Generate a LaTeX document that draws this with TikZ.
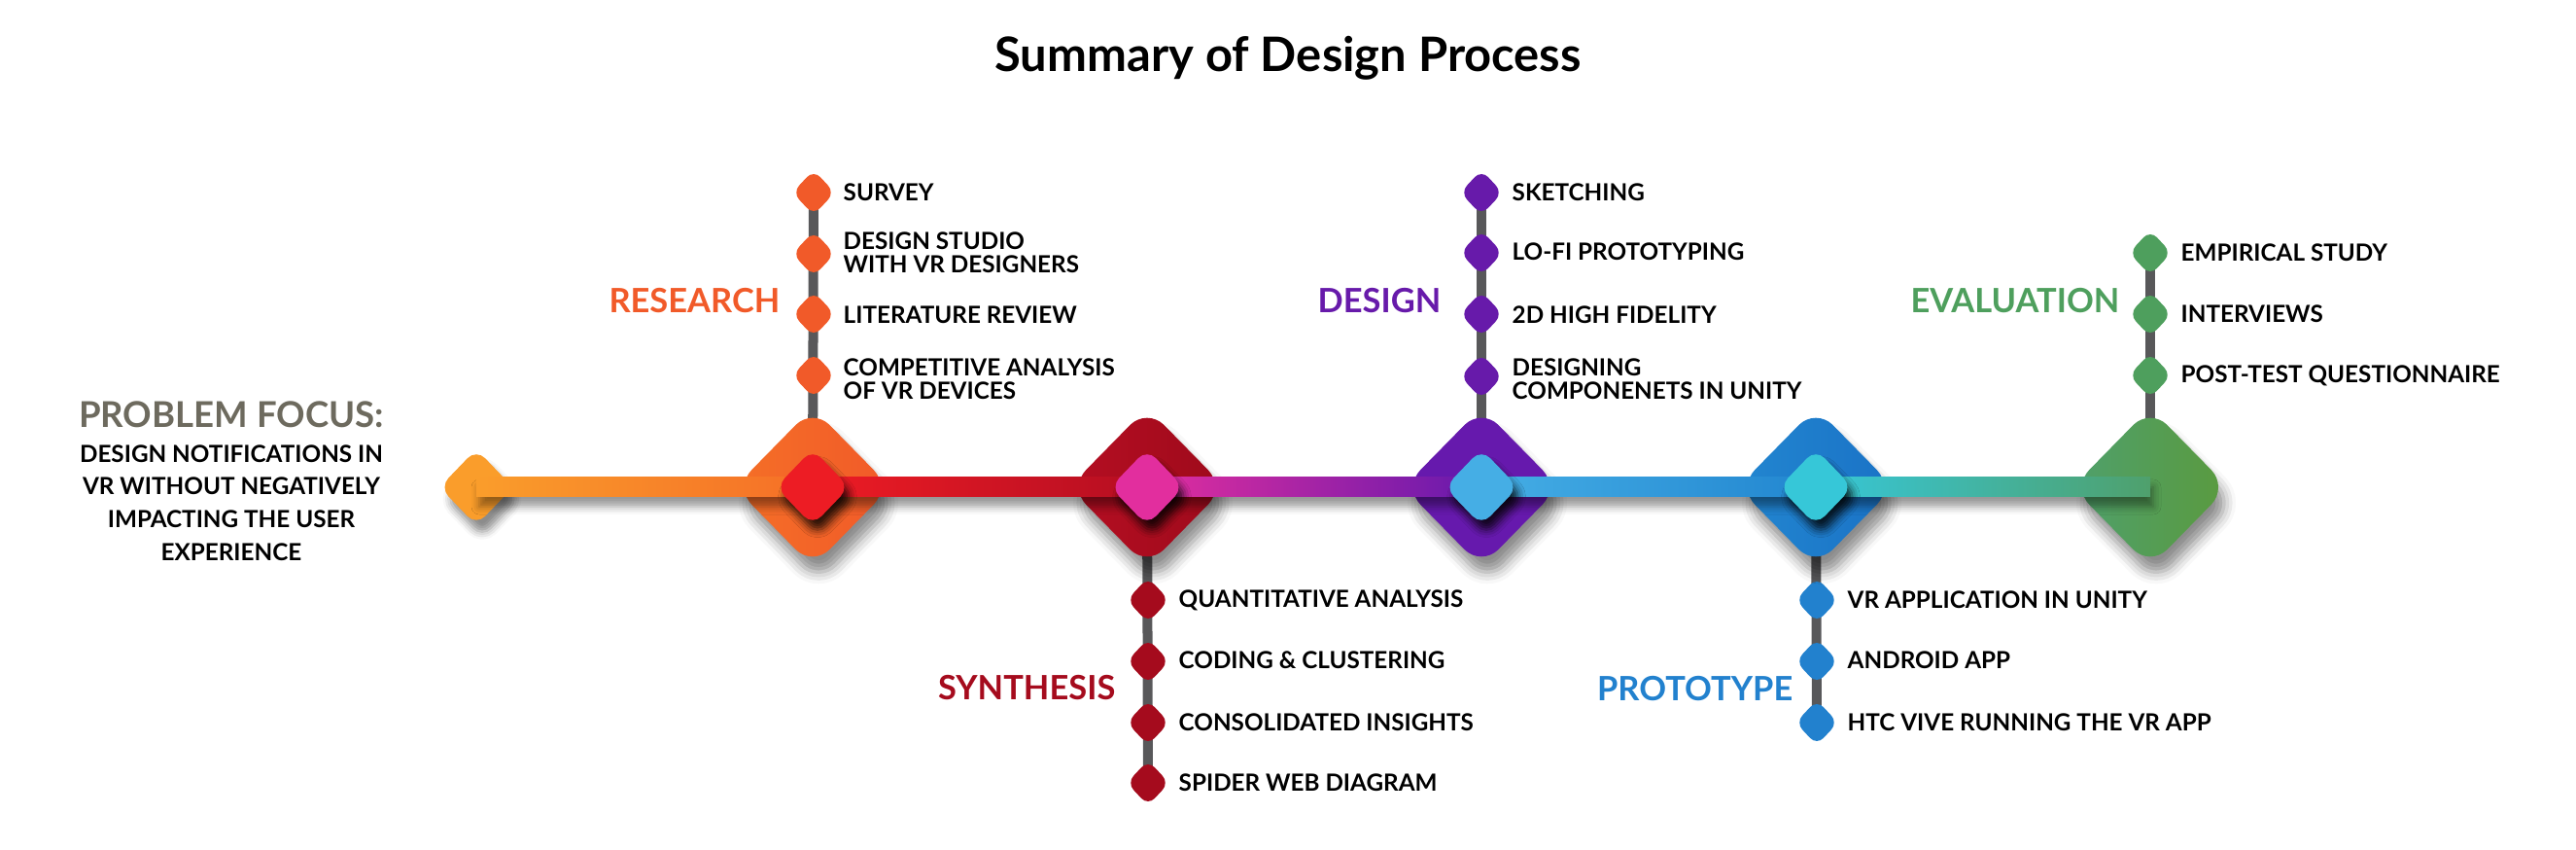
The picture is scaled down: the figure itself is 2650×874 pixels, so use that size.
\documentclass[tikz,border=0pt]{standalone}
\usepackage{fontspec}
\setmainfont{Lato}
\usetikzlibrary{shapes.geometric,shadows.blur,calc}
\definecolor{cStart}{HTML}{FA9D2B}
\definecolor{cResBigL}{HTML}{F56F27}
\definecolor{cResBigR}{HTML}{F15A29}
\definecolor{cResIn}{HTML}{ED1C24}
\definecolor{cSynBigL}{HTML}{B50E22}
\definecolor{cSynBigR}{HTML}{9E0A1B}
\definecolor{cSynIn}{HTML}{E22E9E}
\definecolor{cDesBig}{HTML}{6619AD}
\definecolor{cDesIn}{HTML}{45AEE5}
\definecolor{cProBigL}{HTML}{2286D0}
\definecolor{cProBigR}{HTML}{1A72C6}
\definecolor{cProIn}{HTML}{36C7D8}
\definecolor{cEvaL}{HTML}{4FA06C}
\definecolor{cEvaR}{HTML}{5A9A3E}
\definecolor{cResItem}{HTML}{F15A29}
\definecolor{cSynItem}{HTML}{A50B1D}
\definecolor{cDesItem}{HTML}{671AAA}
\definecolor{cProItem}{HTML}{2281CE}
\definecolor{cEvaItem}{HTML}{4E9F5D}
\definecolor{cStem}{HTML}{58585A}
\definecolor{cProblem}{HTML}{6D6A5E}
\tikzset{
  bigdia/.style={diamond, minimum width=1.61cm, minimum height=1.64cm, inner sep=0pt, rounded corners=0.25cm,
    blur shadow={shadow xshift=0.06cm, shadow yshift=-0.16cm, shadow blur radius=0.12cm, shadow opacity=45}},
  india/.style={diamond, minimum width=0.76cm, minimum height=0.79cm, inner sep=0pt, rounded corners=0.13cm,
    blur shadow={shadow xshift=0.05cm, shadow yshift=-0.1cm, shadow blur radius=0.08cm, shadow opacity=80}},
  startdia/.style={diamond, minimum width=0.76cm, minimum height=0.79cm, inner sep=0pt, rounded corners=0.13cm,
    blur shadow={shadow xshift=0.06cm, shadow yshift=-0.12cm, shadow blur radius=0.08cm, shadow opacity=45}},
  itemdia/.style={diamond, minimum width=0.44cm, minimum height=0.47cm, inner sep=0pt, rounded corners=0.1cm},
  stemline/.style={draw=cStem, line width=0.1cm},
  barseg/.style={blur shadow={shadow xshift=0.03cm, shadow yshift=-0.1cm, shadow blur radius=0.08cm, shadow opacity=40}},
  itemtext/.style={font=\bfseries\fontsize{6.9}{6.9}\selectfont, anchor=west, align=left, inner sep=0pt},
  phaselabel/.style={font=\bfseries\fontsize{9.8}{11}\selectfont, anchor=east, inner sep=0pt},
}
\begin{document}
\begin{tikzpicture}[x=0.01cm, y=-0.01cm]
\useasboundingbox (0,0) rectangle (2650,874);
% title
\node[font=\bfseries\fontsize{13.9}{15}\selectfont, anchor=base] (title) at (1325,74) {Summary of Design Process};
% problem focus
\node[font=\bfseries\fontsize{10.4}{12}\selectfont, text=cProblem, anchor=base, inner sep=0pt] (pf) at (238,440) {PROBLEM FOCUS:};
\node[font=\bfseries\fontsize{6.9}{9.6}\selectfont, align=center, inner sep=0pt] (pft) at (238,517)
  {DESIGN NOTIFICATIONS IN\\VR WITHOUT NEGATIVELY\\IMPACTING THE USER\\EXPERIENCE};

% phase centres and item positions
\coordinate (rc) at (836,501);
\coordinate (sc) at (1180,501);
\coordinate (dc) at (1524,501);
\coordinate (pc) at (1868,501);
\coordinate (ec) at (2212,501);
\coordinate (r1c) at (837,198);
\coordinate (d1c) at (1524,198);
\coordinate (e1c) at (2212,260);
\coordinate (s4c) at (1181,805);
\coordinate (p3c) at (1869,743);

% stems (behind everything)
\draw[stemline] (r1c) -- (rc);
\draw[stemline] (d1c) -- (dc);
\draw[stemline] (e1c) -- (ec);
\draw[stemline] (sc) -- (s4c);
\draw[stemline] (pc) -- (p3c);

% item diamonds
\node[itemdia, fill=cResItem] (r1) at (r1c) {};
\node[itemdia, fill=cResItem] (r2) at (837,261) {};
\node[itemdia, fill=cResItem] (r3) at (837,323) {};
\node[itemdia, fill=cResItem] (r4) at (837,386) {};
\node[itemdia, fill=cDesItem] (d1) at (d1c) {};
\node[itemdia, fill=cDesItem] (d2) at (1524,260) {};
\node[itemdia, fill=cDesItem] (d3) at (1524,323) {};
\node[itemdia, fill=cDesItem] (d4) at (1524,387) {};
\node[itemdia, fill=cEvaItem] (e1) at (e1c) {};
\node[itemdia, fill=cEvaItem] (e2) at (2212,323) {};
\node[itemdia, fill=cEvaItem] (e3) at (2212,386) {};
\node[itemdia, fill=cSynItem] (s1) at (1181,617) {};
\node[itemdia, fill=cSynItem] (s2) at (1181,680) {};
\node[itemdia, fill=cSynItem] (s3) at (1181,743) {};
\node[itemdia, fill=cSynItem] (s4) at (s4c) {};
\node[itemdia, fill=cProItem] (p1) at (1869,617) {};
\node[itemdia, fill=cProItem] (p2) at (1869,680) {};
\node[itemdia, fill=cProItem] (p3) at (p3c) {};

% big diamonds
\node[bigdia, left color=cResBigL, right color=cResBigR] (rbig) at (rc) {};
\node[bigdia, left color=cSynBigL, right color=cSynBigR] (sbig) at (sc) {};
\node[bigdia, fill=cDesBig] (dbig) at (dc) {};
\node[bigdia, left color=cProBigL, right color=cProBigR] (pbig) at (pc) {};
\node[bigdia, left color=cEvaL, right color=cEvaR] (ebig) at (ec) {};
\node[startdia, fill=cStart] (start) at (490,501) {};

% bars
\path[barseg, left color=cStart, right color=cResBigL] ($(start.center)+(0,-10)$) rectangle ($(rbig.center)+(0,10)$);
\path[barseg, left color=cResIn, right color=cSynBigL] ($(rbig.center)+(0,-10)$) rectangle ($(sbig.center)+(0,10)$);
\path[barseg, left color=cSynIn, right color=cDesBig] ($(sbig.center)+(0,-10)$) rectangle ($(dbig.center)+(0,10)$);
\path[barseg, left color=cDesIn, right color=cProBigL] ($(dbig.center)+(0,-10)$) rectangle ($(pbig.center)+(0,10)$);
\path[barseg, left color=cProIn, right color=cEvaL] ($(pbig.center)+(0,-10)$) rectangle ($(ebig.center)+(0,10)$);

% inner diamonds
\node[india, fill=cResIn] (rin) at (rc) {};
\node[india, fill=cSynIn] (sin) at (sc) {};
\node[india, fill=cDesIn] (din) at (dc) {};
\node[india, fill=cProIn] (pin) at (pc) {};

% item texts
\node[itemtext] (r1t) at (867,198) {SURVEY};
\node[itemtext] (r2t) at (867,260) {DESIGN STUDIO\\WITH VR DESIGNERS};
\node[itemtext] (r3t) at (867,324) {LITERATURE REVIEW};
\node[itemtext] (r4t) at (867,390) {COMPETITIVE ANALYSIS\\OF VR DEVICES};
\node[itemtext] (d1t) at (1555,198) {SKETCHING};
\node[itemtext] (d2t) at (1555,259) {LO-FI PROTOTYPING};
\node[itemtext] (d3t) at (1555,324) {2D HIGH FIDELITY};
\node[itemtext] (d4t) at (1555,390) {DESIGNING\\COMPONENETS IN UNITY};
\node[itemtext] (e1t) at (2243,260) {EMPIRICAL STUDY};
\node[itemtext] (e2t) at (2243,323) {INTERVIEWS};
\node[itemtext] (e3t) at (2243,386) {POST-TEST QUESTIONNAIRE};
\node[itemtext] (s1t) at (1212,617) {QUANTITATIVE ANALYSIS};
\node[itemtext] (s2t) at (1212,679) {CODING \& CLUSTERING};
\node[itemtext] (s3t) at (1212,743) {CONSOLIDATED INSIGHTS};
\node[itemtext] (s4t) at (1212,805) {SPIDER WEB DIAGRAM};
\node[itemtext] (p1t) at (1900,617) {VR APPLICATION IN UNITY};
\node[itemtext] (p2t) at (1900,679) {ANDROID APP};
\node[itemtext] (p3t) at (1900,743) {HTC VIVE RUNNING THE VR APP};

% phase labels
\node[phaselabel, text=cResItem] (rl) at (803,309) {RESEARCH};
\node[phaselabel, text=cDesItem] (dl) at (1483,309) {DESIGN};
\node[phaselabel, text=cEvaItem] (el) at (2181,309) {EVALUATION};
\node[phaselabel, text=cSynItem] (sl) at (1148,707) {SYNTHESIS};
\node[phaselabel, text=cProItem] (pl) at (1845,708) {PROTOTYPE};
\end{tikzpicture}
\end{document}
